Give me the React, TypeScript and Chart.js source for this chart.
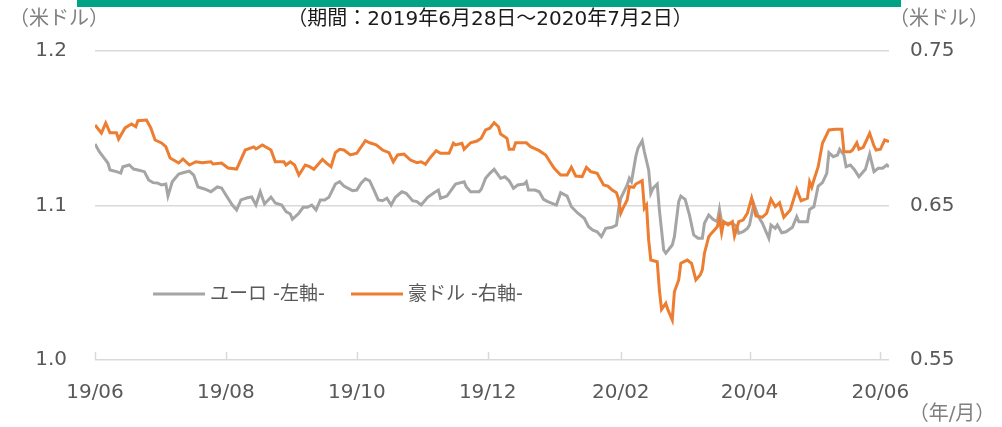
import { useEffect, useRef } from "react";
import { Chart, registerables } from "chart.js";

Chart.register(...registerables);

const FONT = "'DejaVu Sans', 'Noto Sans CJK JP', sans-serif";

// Period
const startDate = "2019-06-28";
const endDate = "2020-07-02";
const titleText = "（期間：2019年6月28日～2020年7月2日）";
const leftUnit = "（米ドル）";
const rightUnit = "（米ドル）";
const xUnit = "（年/月）";

// x-axis ticks (dates) and labels
const xTickDates = ["2019-06-28", "2019-08-28", "2019-10-28", "2019-12-28", "2020-02-28", "2020-04-28", "2020-06-28"];
const xTickLabels = ["19/06", "19/08", "19/10", "19/12", "20/02", "20/04", "20/06"];

// y-axis ticks
const leftTicks = [1.0, 1.1, 1.2];
const rightTicks = [0.55, 0.65, 0.75];

// Series names
const euroLabel = "ユーロ -左軸-";
const audLabel = "豪ドル -右軸-";

// Euro (USD per EUR), days since start date
const euroDay = [0, 2, 5, 6, 7, 10, 12, 13, 16, 18, 20, 23, 25, 27, 29, 31, 33, 34, 36, 39, 41, 44, 46, 48, 51, 54, 57, 59, 61, 64, 66, 68, 71, 73, 75, 77, 79, 82, 84, 87, 89, 91, 92, 95, 97, 99, 101, 103, 105, 107, 109, 112, 114, 116, 120, 122, 124, 126, 128, 130, 132, 134, 136, 138, 140, 143, 145, 148, 150, 152, 155, 158, 160, 161, 164, 166, 168, 172, 173, 175, 179, 180, 182, 184, 186, 189, 191, 193, 195, 197, 200, 201, 202, 205, 207, 209, 211, 215, 217, 220, 222, 225, 228, 230, 232, 234, 236, 238, 241, 243, 244, 245, 248, 249, 250, 252, 253, 255, 256, 258, 259, 260, 262, 263, 265, 266, 269, 270, 272, 273, 275, 277, 279, 281, 283, 284, 286, 288, 290, 291, 292, 294, 297, 299, 300, 302, 304, 305, 307, 309, 311, 314, 315, 317, 318, 320, 322, 325, 327, 328, 329, 332, 333, 335, 337, 339, 341, 342, 344, 346, 347, 349, 350, 352, 354, 356, 359, 361, 363, 365, 367, 369, 370];
const euroUsd = [1.1398, 1.1348, 1.1294, 1.1275, 1.123, 1.1219, 1.121, 1.1251, 1.1262, 1.1236, 1.123, 1.1219, 1.1165, 1.1148, 1.1146, 1.1133, 1.1139, 1.1061, 1.1154, 1.1204, 1.1212, 1.1223, 1.1197, 1.112, 1.1107, 1.1089, 1.112, 1.1113, 1.1068, 1.1003, 1.0971, 1.1036, 1.105, 1.1055, 1.1003, 1.1089, 1.101, 1.1055, 1.1016, 1.1003, 1.096, 1.0945, 1.0911, 1.095, 1.0988, 1.0988, 1.1003, 1.0971, 1.1036, 1.1036, 1.1053, 1.1139, 1.1154, 1.1126, 1.1096, 1.11, 1.1144, 1.1173, 1.116, 1.11, 1.1036, 1.1031, 1.1047, 1.1003, 1.1053, 1.1089, 1.1079, 1.1031, 1.1025, 1.1003, 1.1053, 1.1083, 1.11, 1.1047, 1.1061, 1.11, 1.1139, 1.1154, 1.1122, 1.1089, 1.1089, 1.1105, 1.1176, 1.1208, 1.1234, 1.1176, 1.1186, 1.116, 1.1111, 1.1133, 1.1139, 1.1154, 1.11, 1.11, 1.1089, 1.104, 1.1025, 1.1003, 1.1083, 1.1061, 1.0992, 1.095, 1.0917, 1.0863, 1.0841, 1.083, 1.0798, 1.0852, 1.0859, 1.0874, 1.0975, 1.1047, 1.1133, 1.1176, 1.1154, 1.1316, 1.137, 1.1419, 1.1348, 1.123, 1.1079, 1.1111, 1.1139, 1.0971, 1.0712, 1.0691, 1.0744, 1.0798, 1.1025, 1.1061, 1.104, 1.0939, 1.0809, 1.0788, 1.0788, 1.0885, 1.0939, 1.0911, 1.0895, 1.0975, 1.0895, 1.0885, 1.0885, 1.0863, 1.082, 1.083, 1.0852, 1.0874, 1.101, 1.0932, 1.0885, 1.0788, 1.0874, 1.0852, 1.0874, 1.0824, 1.083, 1.0859, 1.0928, 1.0895, 1.0895, 1.0895, 1.0975, 1.0992, 1.1126, 1.1148, 1.1208, 1.1342, 1.1316, 1.1327, 1.1364, 1.1327, 1.1251, 1.1262, 1.123, 1.1186, 1.1234, 1.1333, 1.1219, 1.1241, 1.1241, 1.1262, 1.1251];

// Australian dollar (USD per AUD), days since start date
const audDay = [0, 3, 5, 7, 10, 11, 14, 17, 19, 20, 24, 26, 28, 31, 33, 35, 39, 41, 44, 47, 50, 54, 55, 59, 62, 66, 70, 74, 75, 78, 82, 84, 88, 89, 91, 93, 95, 98, 100, 102, 106, 108, 110, 112, 114, 116, 119, 122, 126, 128, 131, 134, 137, 139, 141, 144, 147, 150, 152, 154, 156, 159, 161, 165, 167, 168, 171, 172, 175, 178, 180, 182, 184, 186, 188, 189, 192, 193, 195, 196, 201, 203, 207, 210, 212, 214, 217, 220, 222, 224, 227, 229, 231, 234, 237, 239, 241, 243, 244, 245, 246, 248, 249, 251, 252, 255, 256, 257, 258, 259, 262, 263, 264, 266, 267, 269, 270, 272, 273, 276, 277, 278, 280, 282, 283, 284, 286, 287, 290, 291, 292, 293, 295, 297, 298, 300, 302, 304, 306, 308, 311, 313, 315, 317, 319, 321, 324, 327, 329, 332, 333, 334, 335, 337, 339, 342, 345, 348, 349, 352, 353, 355, 356, 358, 361, 363, 364, 366, 368, 370];
const audUsd = [0.7021, 0.6969, 0.7034, 0.6971, 0.6971, 0.693, 0.7002, 0.7028, 0.701, 0.7049, 0.7053, 0.7002, 0.6924, 0.6905, 0.6881, 0.6807, 0.6775, 0.6801, 0.6762, 0.6783, 0.6777, 0.6783, 0.6769, 0.6775, 0.6743, 0.6736, 0.6859, 0.6879, 0.6866, 0.6892, 0.6859, 0.6783, 0.6783, 0.6762, 0.6783, 0.6762, 0.6697, 0.6762, 0.6751, 0.6734, 0.6799, 0.6773, 0.6751, 0.6842, 0.6864, 0.6859, 0.6827, 0.6838, 0.6919, 0.6906, 0.6892, 0.6859, 0.6842, 0.6783, 0.6827, 0.6833, 0.6794, 0.6777, 0.6783, 0.6767, 0.6806, 0.6855, 0.6838, 0.6838, 0.6903, 0.6892, 0.6903, 0.6864, 0.6906, 0.6917, 0.6935, 0.6989, 0.7, 0.7036, 0.701, 0.6963, 0.6935, 0.6864, 0.6864, 0.6906, 0.6906, 0.6881, 0.6855, 0.6827, 0.6783, 0.6741, 0.6697, 0.6697, 0.6747, 0.6691, 0.6687, 0.6747, 0.6719, 0.6708, 0.6633, 0.6626, 0.66, 0.6583, 0.654, 0.645, 0.6482, 0.6536, 0.6622, 0.6618, 0.6639, 0.6661, 0.6482, 0.6503, 0.6277, 0.6147, 0.6136, 0.5953, 0.5828, 0.5867, 0.5824, 0.5759, 0.5942, 0.6018, 0.6126, 0.6147, 0.6136, 0.6126, 0.6018, 0.605, 0.6083, 0.6191, 0.6298, 0.6316, 0.6363, 0.6417, 0.6324, 0.6395, 0.6374, 0.6395, 0.6303, 0.6395, 0.6406, 0.645, 0.6547, 0.6432, 0.6424, 0.645, 0.654, 0.6492, 0.6518, 0.6424, 0.6471, 0.6605, 0.6531, 0.6547, 0.6654, 0.6618, 0.6665, 0.6751, 0.6903, 0.6989, 0.6993, 0.6993, 0.6848, 0.6848, 0.6859, 0.6906, 0.6864, 0.6877, 0.6967, 0.6885, 0.6859, 0.6864, 0.6924, 0.6913];

const DAY = 86400000;
const dayOf = (s: string) => Math.round((Date.parse(s) - Date.parse(startDate)) / DAY);

const decorPlugin = {
  id: "decor",
  afterDraw(chart: any) {
    const ctx = chart.ctx as CanvasRenderingContext2D;
    const { bottom } = chart.chartArea;
    ctx.save();
    // top band
    ctx.fillStyle = "#00A384";
    ctx.fillRect(77, 0, 824, 7);
    // title
    ctx.textBaseline = "middle";
    ctx.textAlign = "center";
    ctx.font = `20px ${FONT}`;
    ctx.fillStyle = "#1a1a1a";
    ctx.fillText(titleText, 490, 20);
    // units
    ctx.fillStyle = "#808080";
    ctx.fillText(leftUnit, 59, 20);
    ctx.fillText(rightUnit, 939, 20);
    ctx.fillText(xUnit, 952, 415);
    // inward x tick marks
    const xs = chart.scales.x;
    ctx.strokeStyle = "#d9d9d9";
    ctx.lineWidth = 1.5;
    xs.ticks.forEach((t: any) => {
      const px = Math.round(xs.getPixelForValue(t.value)) + 0.5;
      ctx.beginPath();
      ctx.moveTo(px, bottom);
      ctx.lineTo(px, bottom - 8);
      ctx.stroke();
    });
    // legend
    const items = [
      { ds: chart.data.datasets[0], x: 153 },
      { ds: chart.data.datasets[1], x: 351 },
    ];
    ctx.font = `19px ${FONT}`;
    ctx.textAlign = "left";
    items.forEach(({ ds, x }) => {
      ctx.strokeStyle = ds.borderColor;
      ctx.lineWidth = 3;
      ctx.beginPath();
      ctx.moveTo(x, 294);
      ctx.lineTo(x + 52, 294);
      ctx.stroke();
      ctx.fillStyle = "#595959";
      ctx.fillText(ds.label, x + 57, 295);
    });
    ctx.restore();
  },
};

export default function App() {
  const ref = useRef<HTMLCanvasElement>(null);
  useEffect(() => {
    const tickDays = xTickDates.map(dayOf);
    const chart = new Chart(ref.current!, {
      type: "line",
      data: {
        datasets: [
          {
            label: euroLabel,
            data: euroDay.map((d, i) => ({ x: d, y: euroUsd[i] })),
            borderColor: "#A5A5A5",
            borderWidth: 3,
            pointRadius: 0,
            tension: 0,
            yAxisID: "y",
            order: 1,
          },
          {
            label: audLabel,
            data: audDay.map((d, i) => ({ x: d, y: audUsd[i] })),
            borderColor: "#ED7D31",
            borderWidth: 3,
            pointRadius: 0,
            tension: 0,
            yAxisID: "y1",
            order: 0,
          },
        ],
      },
      options: {
        responsive: false,
        animation: false,
        layout: { padding: { top: 51, left: 0, right: 0, bottom: 0 } },
        plugins: { legend: { display: false }, tooltip: { enabled: false }, title: { display: false } },
        scales: {
          x: {
            type: "linear",
            min: 0,
            max: dayOf(endDate),
            afterBuildTicks: (s: any) => {
              s.ticks = tickDays.map((v) => ({ value: v }));
            },
            afterFit: (s: any) => {
              s.height = 67;
            },
            grid: { display: false, drawTicks: false },
            border: { display: false },
            ticks: {
              autoSkip: false,
              maxRotation: 0,
              padding: 21,
              color: "#595959",
              font: { family: FONT, size: 20 },
              callback: (_v: any, i: number) => xTickLabels[i],
            },
          },
          y: {
            position: "left",
            min: 1.0,
            max: 1.2,
            afterBuildTicks: (s: any) => {
              s.ticks = leftTicks.map((v) => ({ value: v }));
            },
            afterFit: (s: any) => {
              s.width = 95;
            },
            grid: { color: "#d9d9d9", lineWidth: 1.5, drawTicks: false },
            border: { display: false },
            ticks: {
              padding: 28,
              color: "#595959",
              font: { family: FONT, size: 20 },
              callback: (v: any) => Number(v).toFixed(1),
            },
          },
          y1: {
            position: "right",
            min: 0.55,
            max: 0.75,
            afterBuildTicks: (s: any) => {
              s.ticks = rightTicks.map((v) => ({ value: v }));
            },
            afterFit: (s: any) => {
              s.width = 113;
            },
            grid: { display: false, drawTicks: false },
            border: { display: false },
            ticks: {
              padding: 21,
              color: "#595959",
              font: { family: FONT, size: 20 },
              callback: (v: any) => Number(v).toFixed(2),
            },
          },
        },
      },
      plugins: [decorPlugin],
    } as any);
    return () => chart.destroy();
  }, []);
  return (
    <div style={{ position: "absolute", left: 0, top: 0, width: 1002, height: 427, background: "#fff" }}>
      <canvas ref={ref} width={1002} height={427} style={{ display: "block" }} />
    </div>
  );
}
